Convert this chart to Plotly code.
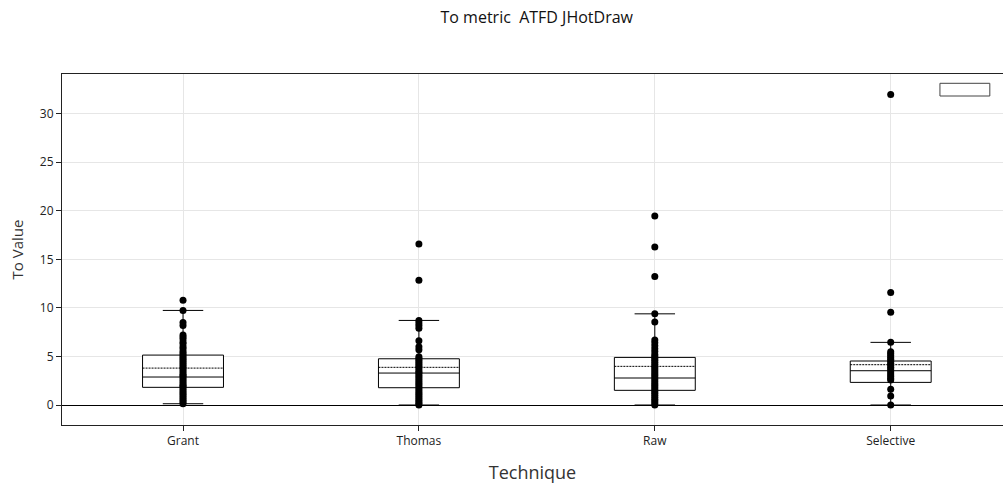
import plotly.graph_objects as go

# Techniques compared
techniques = ["Grant", "Thomas", "Raw", "Selective"]

# Summary statistics of the "To" value per technique
q1_vals = [1.82, 1.78, 1.51, 2.33]
median_vals = [2.88, 3.29, 2.78, 3.53]
q3_vals = [5.14, 4.76, 4.90, 4.53]
mean_vals = [3.80, 3.88, 3.98, 4.15]
lower_fence = [0.13, 0.0, 0.0, 0.0]
upper_fence = [9.74, 8.71, 9.39, 6.45]

# Individual observations per technique
grant_vals = [10.8, 9.74, 8.5, 8.2, 7.2, 7.0, 6.8, 6.5, 6.3, 6.0, 5.8, 5.5, 5.3,
              5.1, 4.9, 4.7, 4.5, 4.3, 4.1, 3.9, 3.7, 3.5, 3.3, 3.1, 3.0, 2.8,
              2.6, 2.4, 2.2, 2.0, 1.9, 1.7, 1.5, 1.3, 1.1, 0.9, 0.7, 0.5, 0.3,
              0.13]
thomas_vals = [16.59, 12.86, 8.71, 8.45, 8.2, 7.9, 6.61, 6.0, 5.7, 4.97, 4.8,
               4.6, 4.4, 4.2, 4.0, 3.8, 3.6, 3.4, 3.3, 3.1, 2.9, 2.7, 2.5, 2.3,
               2.1, 1.9, 1.7, 1.5, 1.3, 1.1, 0.9, 0.7, 0.5, 0.3, 0.15, 0.0]
raw_vals = [19.47, 16.28, 13.24, 9.39, 8.54, 6.69, 6.4, 6.1, 5.8, 5.5, 5.2,
            5.0, 4.8, 4.6, 4.4, 4.2, 4.0, 3.8, 3.6, 3.4, 3.2, 3.0, 2.8, 2.6,
            2.4, 2.2, 2.0, 1.8, 1.6, 1.4, 1.2, 1.0, 0.8, 0.6, 0.4, 0.2, 0.0]
selective_vals = [31.99, 11.59, 9.56, 6.45, 5.48, 5.3, 5.1, 4.9, 4.7, 4.5, 4.3,
                  4.1, 3.9, 3.7, 3.5, 3.3, 3.1, 2.9, 2.7, 2.57, 1.61, 0.93, 0.0]

samples = [grant_vals, thomas_vals, raw_vals, selective_vals]

FONT = "Open Sans"

fig = go.Figure()
fig.add_trace(go.Box(
    x=techniques,
    y=samples,
    q1=q1_vals,
    median=median_vals,
    q3=q3_vals,
    mean=mean_vals,
    lowerfence=lower_fence,
    upperfence=upper_fence,
    name="",
    boxpoints="all",
    jitter=0,
    pointpos=0,
    fillcolor="white",
    line=dict(color="black", width=1),
    marker=dict(color="black", size=7),
    showlegend=False,
))

# Empty legend frame in the upper-right corner of the plot area
fig.add_shape(
    type="rect", xref="paper", yref="paper",
    x0=0.933, x1=0.986, y0=0.9373, y1=0.9735,
    line=dict(color="#444", width=1), fillcolor="white", layer="above",
)

fig.update_layout(
    width=1003,
    height=491,
    margin=dict(l=62, r=0, t=74, b=66),
    paper_bgcolor="white",
    plot_bgcolor="white",
    font=dict(family=FONT, size=12, color="#444"),
    title=dict(
        text="To metric  ATFD JHotDraw",
        font=dict(family=FONT, size=16, color="#111"),
        x=0.5045, xref="paper", xanchor="center",
        y=1 - 17 / 491, yref="container", yanchor="middle",
    ),
    boxgap=0.51,
    showlegend=False,
    xaxis=dict(
        title=dict(text="Technique", standoff=17,
                   font=dict(family=FONT, size=18, color="#333")),
        automargin=False,
        range=[-0.513, 3.476],
        showgrid=True, gridcolor="#e6e6e6", gridwidth=1,
        showline=True, linecolor="#222", linewidth=1, mirror=True,
        ticks="outside", ticklen=5, tickcolor="#222",
        tickfont=dict(size=12, color="#222"),
        zeroline=False,
    ),
    yaxis=dict(
        title=dict(text="To Value", standoff=12,
                   font=dict(family=FONT, size=15, color="#333")),
        automargin=False,
        range=[-2.06, 34.09],
        tickvals=[0, 5, 10, 15, 20, 25, 30],
        showgrid=True, gridcolor="#e6e6e6", gridwidth=1,
        showline=True, linecolor="#222", linewidth=1, mirror=False,
        ticks="outside", ticklen=5, tickcolor="#222",
        tickfont=dict(size=12, color="#222"),
        zeroline=True, zerolinecolor="black", zerolinewidth=1,
    ),
)

fig.write_html("out.html")
